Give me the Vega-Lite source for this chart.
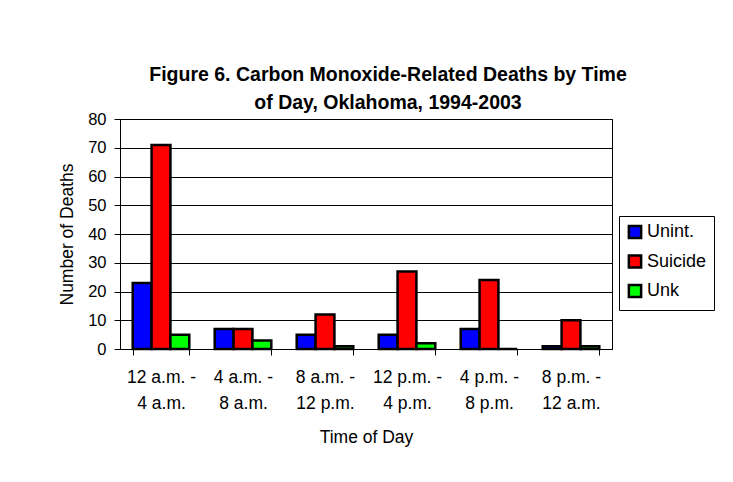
{
  "$schema": "https://vega.github.io/schema/vega-lite/v6.json",
  "width": 492,
  "height": 230,
  "autosize": "none",
  "padding": {"left": 120, "top": 119, "right": 121, "bottom": 133},
  "background": "white",
  "title": {
    "text": ["Figure 6. Carbon Monoxide-Related Deaths by Time", "of Day, Oklahoma, 1994-2003"],
    "font": "Liberation Sans",
    "fontSize": 19.5,
    "fontWeight": "bold",
    "color": "black",
    "lineHeight": 28,
    "anchor": "middle",
    "dx": 22,
    "offset": -2
  },
  "data": {
    "values": [
      {"time": "12 a.m. -|4 a.m.", "type": "Unint.", "deaths": 23},
      {"time": "12 a.m. -|4 a.m.", "type": "Suicide", "deaths": 71},
      {"time": "12 a.m. -|4 a.m.", "type": "Unk", "deaths": 5},
      {"time": "4 a.m. -|8 a.m.", "type": "Unint.", "deaths": 7},
      {"time": "4 a.m. -|8 a.m.", "type": "Suicide", "deaths": 7},
      {"time": "4 a.m. -|8 a.m.", "type": "Unk", "deaths": 3},
      {"time": "8 a.m. -|12 p.m.", "type": "Unint.", "deaths": 5},
      {"time": "8 a.m. -|12 p.m.", "type": "Suicide", "deaths": 12},
      {"time": "8 a.m. -|12 p.m.", "type": "Unk", "deaths": 1},
      {"time": "12 p.m. -|4 p.m.", "type": "Unint.", "deaths": 5},
      {"time": "12 p.m. -|4 p.m.", "type": "Suicide", "deaths": 27},
      {"time": "12 p.m. -|4 p.m.", "type": "Unk", "deaths": 2},
      {"time": "4 p.m. -|8 p.m.", "type": "Unint.", "deaths": 7},
      {"time": "4 p.m. -|8 p.m.", "type": "Suicide", "deaths": 24},
      {"time": "4 p.m. -|8 p.m.", "type": "Unk", "deaths": 0},
      {"time": "8 p.m. -|12 a.m.", "type": "Unint.", "deaths": 1},
      {"time": "8 p.m. -|12 a.m.", "type": "Suicide", "deaths": 10},
      {"time": "8 p.m. -|12 a.m.", "type": "Unk", "deaths": 1}
    ]
  },
  "mark": {"type": "bar", "stroke": "black", "strokeWidth": 2.5},
  "encoding": {
    "x": {
      "field": "time",
      "type": "nominal",
      "sort": null,
      "scale": {"paddingInner": 0.31, "paddingOuter": 0.155},
      "axis": {
        "title": "Time of Day",
        "labelExpr": "split(datum.label, '|')",
        "labelAngle": 0,
        "labelFont": "Liberation Sans",
        "labelFontSize": 17.5,
        "labelColor": "black",
        "labelLineHeight": 26,
        "labelPadding": 13,
        "tickBand": "extent",
        "tickColor": "black",
        "tickSize": 6,
        "domainColor": "black",
        "titleFont": "Liberation Sans",
        "titleFontSize": 17.5,
        "titleFontWeight": "normal",
        "titleColor": "black",
        "titlePadding": 17
      }
    },
    "xOffset": {"field": "type", "type": "nominal", "sort": ["Unint.", "Suicide", "Unk"], "scale": {"paddingInner": 0, "paddingOuter": 0}},
    "y": {
      "field": "deaths",
      "type": "quantitative",
      "scale": {"domain": [0, 80]},
      "axis": {
        "title": "Number of Deaths",
        "values": [0, 10, 20, 30, 40, 50, 60, 70, 80],
        "labelFont": "Liberation Sans",
        "labelFontSize": 16.5,
        "labelColor": "black",
        "labelPadding": 8,
        "tickColor": "black",
        "tickSize": 6,
        "domainColor": "black",
        "gridColor": "black",
        "gridOpacity": 1,
        "titleFont": "Liberation Sans",
        "titleFontSize": 17.5,
        "titleFontWeight": "normal",
        "titleColor": "black",
        "titlePadding": 11
      }
    },
    "color": {
      "field": "type",
      "type": "nominal",
      "sort": ["Unint.", "Suicide", "Unk"],
      "scale": {"domain": ["Unint.", "Suicide", "Unk"], "range": ["#0000FF", "#FF0000", "#00FF00"]},
      "legend": {
        "title": null,
        "orient": "none",
        "legendX": 499,
        "legendY": 97,
        "symbolType": "square",
        "symbolSize": 150,
        "symbolStrokeColor": "black",
        "symbolStrokeWidth": 2.5,
        "symbolOpacity": 1,
        "labelFont": "Liberation Sans",
        "labelFontSize": 18,
        "labelColor": "black",
        "labelOffset": 3,
        "rowPadding": 5.5,
        "padding": 7,
        "strokeColor": "black",
        "fillColor": "white"
      }
    }
  },
  "config": {
    "view": {"stroke": "black", "strokeWidth": 1},
    "axis": {"gridWidth": 1, "domainWidth": 1, "tickWidth": 1}
  }
}
